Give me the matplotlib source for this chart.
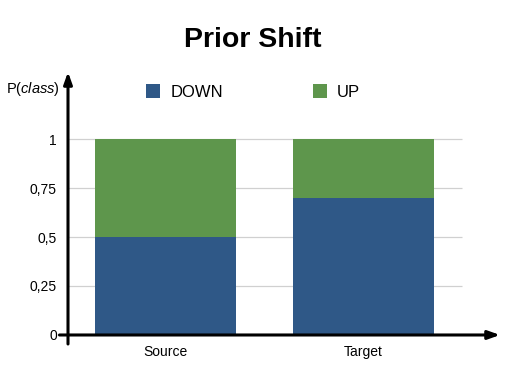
import matplotlib.pyplot as plt
import numpy as np

# Datos
categories = ["Source", "Target"]
down = [0.5, 0.7]
up = [0.5, 0.3]
yticks = [0, 0.25, 0.5, 0.75, 1]
ytick_labels = ["0", "0,25", "0,5", "0,75", "1"]

blue = "#2F5887"
green = "#5E964C"

plt.rcParams["font.family"] = ["Liberation Sans", "DejaVu Sans"]
plt.rcParams["mathtext.fontset"] = "custom"
plt.rcParams["mathtext.it"] = "Liberation Sans:italic"
plt.rcParams["mathtext.rm"] = "Liberation Sans"

W, H = 506, 368
fig = plt.figure(figsize=(W / 100, H / 100), dpi=100)

# ejes en pixeles: izquierda 68, derecha 500, abajo 344, arriba 72
ax = fig.add_axes([68 / W, (H - 344) / H, (500 - 68) / W, (344 - 72) / H])
x = np.arange(len(categories))
x0, x1 = -0.492, 1.689
ax.set_xlim(x0, x1)
ax.set_ylim(-0.046, 1.342)
for s in ax.spines.values():
    s.set_visible(False)

# lineas de cuadricula
ax.hlines(yticks[1:], x0, 1.497, color="#d0d0d0", linewidth=0.9, zorder=0)

width = 0.712
b1 = ax.bar(x, down, width, color=blue, label="DOWN", zorder=2)
b2 = ax.bar(x, up, width, bottom=down, color=green, label="UP", zorder=2)

ax.set_xticks(x)
ax.set_xticklabels(categories, fontsize=10)
ax.set_yticks(yticks)
ax.set_yticklabels(ytick_labels, fontsize=10)
ax.tick_params(axis="y", length=0, pad=8)
ax.tick_params(axis="x", length=0, pad=1)

# flechas de los ejes
arrow = dict(arrowstyle="-|>,head_length=0.7,head_width=0.25", color="black", lw=2.2, shrinkA=0, shrinkB=0)
ax.annotate("", xy=(x1, 0), xytext=(-0.535, 0), arrowprops=arrow, annotation_clip=False)
ax.annotate("", xy=(x0, 1.342), xytext=(x0, -0.046), arrowprops=arrow, annotation_clip=False)

fig.text(33 / W, 1 - 89 / H, r"P($\mathit{class}$)", fontsize=10.5, ha="center", va="center")

fig.legend(handles=[b1, b2], loc="center left", bbox_to_anchor=(146 / W, 1 - 92 / H), ncol=2,
           frameon=False, fontsize=12, handlelength=0.85, handleheight=0.85, handletextpad=0.6,
           columnspacing=5.4, borderpad=0, borderaxespad=0)

fig.suptitle("Prior Shift", fontsize=20.5, fontweight="bold", y=1 - 40 / H, va="center")

plt.savefig("out.png", dpi=100)
